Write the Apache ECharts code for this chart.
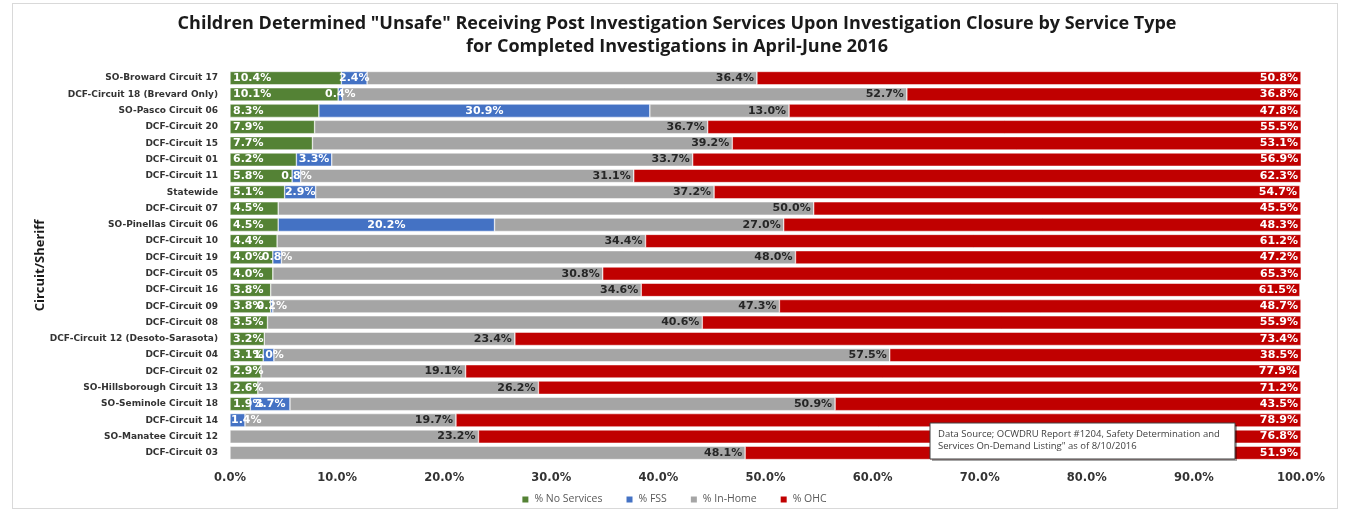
<!DOCTYPE html>
<html>
<head>
<meta charset="utf-8">
<script src="https://cdn.jsdelivr.net/npm/echarts@6/dist/echarts.min.js"></script>
<style>
html,body{margin:0;padding:0;background:#fff;}
#chart{width:1347px;height:514px;}
#frame{position:absolute;left:12px;top:3px;width:1326px;height:506px;border:1px solid #d9d9d9;box-sizing:border-box;pointer-events:none;}
</style>
</head>
<body>
<div id="chart"></div>
<div id="frame"></div>
<script>
const categories = [
  "SO-Broward Circuit 17","DCF-Circuit 18 (Brevard Only)","SO-Pasco Circuit 06","DCF-Circuit 20",
  "DCF-Circuit 15","DCF-Circuit 01","DCF-Circuit 11","Statewide","DCF-Circuit 07",
  "SO-Pinellas Circuit 06","DCF-Circuit 10","DCF-Circuit 19","DCF-Circuit 05","DCF-Circuit 16",
  "DCF-Circuit 09","DCF-Circuit 08","DCF-Circuit 12 (Desoto-Sarasota)","DCF-Circuit 04",
  "DCF-Circuit 02","SO-Hillsborough Circuit 13","SO-Seminole Circuit 18","DCF-Circuit 14",
  "SO-Manatee Circuit 12","DCF-Circuit 03"
];
const noServices = [10.4,10.1,8.3,7.9,7.7,6.2,5.8,5.1,4.5,4.5,4.4,4.0,4.0,3.8,3.8,3.5,3.2,3.1,2.9,2.6,1.9,null,null,null];
const fss        = [2.4,0.4,30.9,null,null,3.3,0.8,2.9,null,20.2,null,0.8,null,null,0.2,null,null,1.0,null,null,3.7,1.4,null,null];
const inHome     = [36.4,52.7,13.0,36.7,39.2,33.7,31.1,37.2,50.0,27.0,34.4,48.0,30.8,34.6,47.3,40.6,23.4,57.5,19.1,26.2,50.9,19.7,23.2,48.1];
const ohc        = [50.8,36.8,47.8,55.5,53.1,56.9,62.3,54.7,45.5,48.3,61.2,47.2,65.3,61.5,48.7,55.9,73.4,38.5,77.9,71.2,43.5,78.9,76.8,51.9];
const seriesNames = ["% No Services","% FSS","% In-Home","% OHC"];
const colors = ["#548235","#4472C4","#A5A5A5","#C00000"];

const chart = echarts.init(document.getElementById('chart'));
const fmt = p => p.value == null ? '' : p.value.toFixed(1) + '%';
const lbl = (pos, color) => ({show:true, position:pos, color:color, fontWeight:'bold', fontSize:11,
  fontFamily:'DejaVu Sans', formatter:fmt, distance:3});
const mk = (name, data, color, label) => ({
  name, type:'bar', stack:'s', data, barCategoryGap:'18%',
  itemStyle:{color, borderColor:'#ffffff', borderWidth:0.5},
  label, emphasis:{disabled:true}
});
// FSS bars that start at the axis edge keep their label inside the plot
const fssData = fss.map((v, i) => (v != null && noServices[i] == null)
  ? {value:v, label:{position:'insideLeft', distance:1}} : v);
chart.setOption({
  animation:false,
  title:{
    text:'Children Determined "Unsafe" Receiving Post Investigation Services Upon Investigation Closure by Service Type\nfor Completed Investigations in April-June 2016',
    left:672, top:7, textAlign:'center',
    textStyle:{fontFamily:'Open Sans', fontWeight:'bold', fontSize:18, lineHeight:23, color:'#1a1a1a'}
  },
  legend:{
    data:seriesNames, bottom:4, left:'center', itemWidth:8, itemHeight:8, itemGap:22,
    icon:'rect', textStyle:{fontFamily:'Open Sans', fontSize:10.5, color:'#595959'}
  },
  grid:{left:230, right:46, top:70, bottom:53},
  xAxis:{
    type:'value', min:0, max:100, interval:10,
    axisLabel:{formatter:v => v.toFixed(1)+'%', fontFamily:'DejaVu Sans', fontWeight:'bold', fontSize:11.5, color:'#333', margin:11},
    splitLine:{show:false}, axisLine:{show:false}, axisTick:{show:false}
  },
  yAxis:{
    type:'category', data:categories, inverse:true,
    name:'Circuit/Sheriff', nameLocation:'middle', nameGap:183, nameRotate:90, nameMoveOverlap:false,
    nameTextStyle:{fontFamily:'Open Sans', fontWeight:'bold', fontSize:13, color:'#1a1a1a'},
    axisLabel:{fontFamily:'DejaVu Sans', fontWeight:'bold', fontSize:9, color:'#333', margin:12},
    axisLine:{show:false}, axisTick:{show:false}
  },
  series:[
    mk(seriesNames[0], noServices, colors[0], lbl('insideLeft','#ffffff')),
    mk(seriesNames[1], fssData, colors[1], lbl('inside','#ffffff')),
    mk(seriesNames[2], inHome, colors[2], lbl('insideRight','#262626')),
    mk(seriesNames[3], ohc, colors[3], lbl('insideRight','#ffffff'))
  ],
  graphic:[
    {type:'rect', z:100, zlevel:1, shape:{x:932,y:425,width:305,height:36}, style:{fill:'rgba(0,0,0,0.35)'}},
    {type:'rect', z:101, zlevel:1, shape:{x:930,y:423,width:305,height:36}, style:{fill:'#ffffff', stroke:'#404040', lineWidth:1}},
    {type:'text', z:102, zlevel:1, x:938, y:428, style:{text:'Data Source; OCWDRU Report #1204, Safety Determination and\nServices On-Demand Listing" as of 8/10/2016',
        fontFamily:'Open Sans', fontSize:9.5, lineHeight:12, fill:'#404040'}}
  ]
});
</script>
</body>
</html>
